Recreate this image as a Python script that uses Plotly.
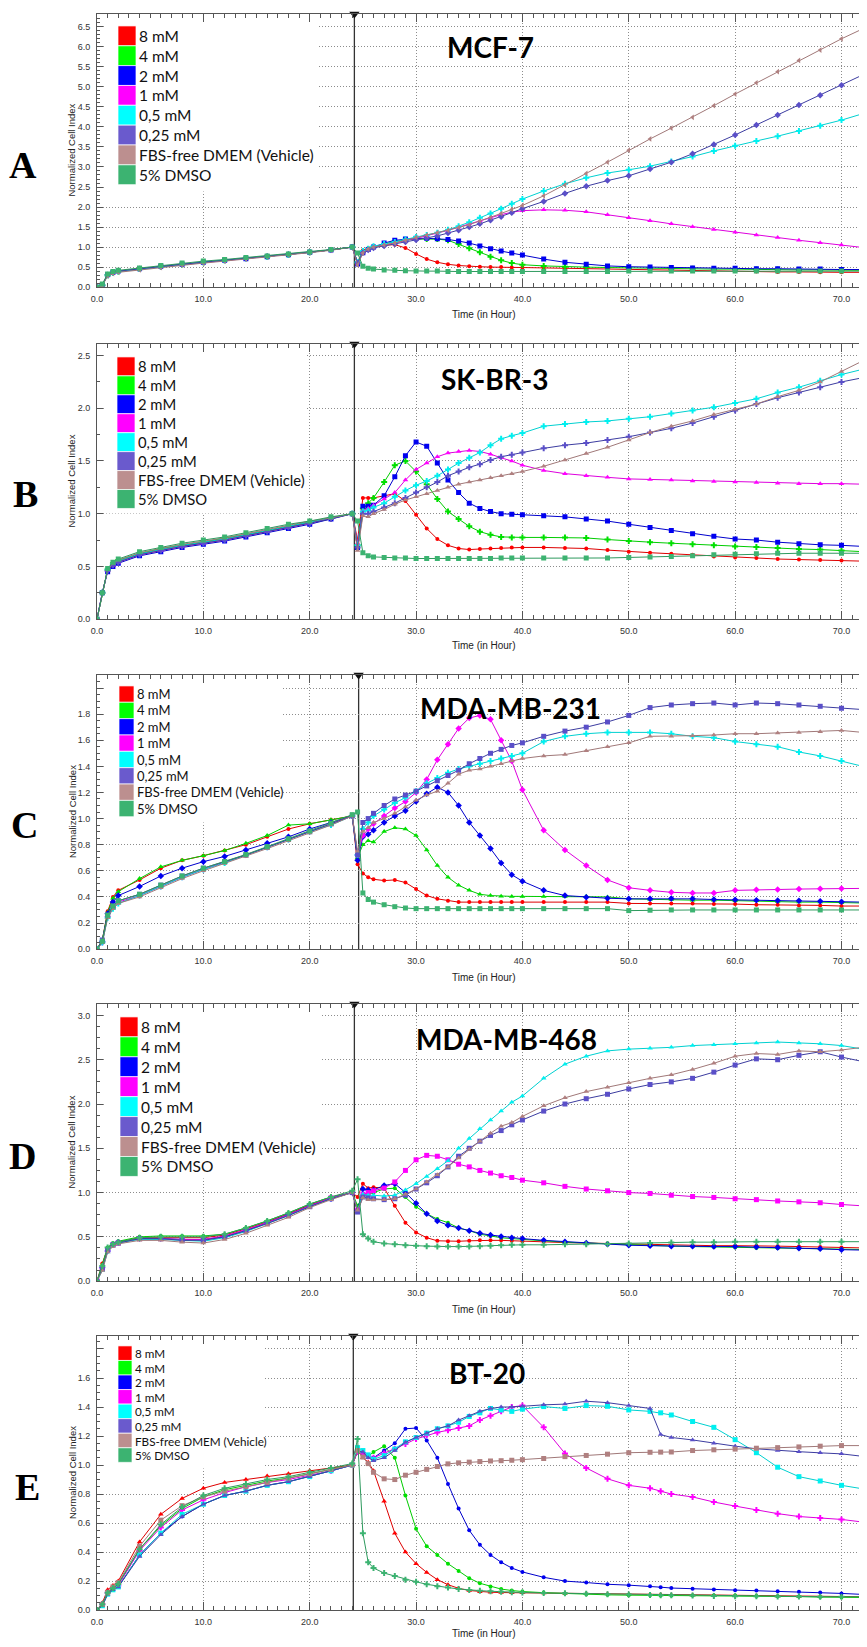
import plotly.graph_objects as go

T = [0, 0.5, 1, 1.5, 2, 4, 6, 8, 10, 12, 14, 16, 18, 20, 22, 24,
     24.5, 25, 25.5, 26, 27, 28, 29, 30, 31, 32, 33, 34, 35, 36, 37, 38, 39, 40,
     42, 44, 46, 48, 50, 52, 54, 56, 58, 60, 62, 64, 66, 68, 70, 72]
T_E = [0, 0.5, 1, 1.5, 2, 4, 6, 8, 10, 12, 14, 16, 18, 20, 22, 24,
       24.5, 25, 25.5, 26, 27, 28, 29, 30, 31, 32, 33, 34, 35, 36, 37, 38, 39, 40,
       42, 44, 46, 48, 50, 52, 53, 54, 56, 58, 60, 62, 64, 66, 68, 70, 72]

LABELS = ["8 mM", "4 mM", "2 mM", "1 mM", "0,5 mM", "0,25 mM",
          "FBS-free DMEM (Vehicle)", "5% DMSO"]
PANEL_LETTERS = ["A", "B", "C", "D", "E"]
CELL_LINES = ["MCF-7", "SK-BR-3", "MDA-MB-231", "MDA-MB-468", "BT-20"]
TREAT = [24.2, 24.2, 24.6, 24.2, 24.1]

# MCF-7
A_8 = [0, 0.06, 0.31, 0.37, 0.4, 0.46, 0.52, 0.57, 0.62, 0.67, 0.72, 0.76, 0.81, 0.87, 0.93, 1.0,
       0.62, 0.92, 0.97, 1.0, 1.05, 1.06, 0.98, 0.83, 0.7, 0.62, 0.57, 0.54, 0.52, 0.51, 0.5, 0.5, 0.49, 0.49,
       0.48, 0.47, 0.47, 0.46, 0.45, 0.44, 0.43, 0.42, 0.41, 0.4, 0.39, 0.38, 0.38, 0.37, 0.37, 0.37]
A_4 = [0, 0.05, 0.3, 0.36, 0.39, 0.45, 0.51, 0.57, 0.62, 0.67, 0.72, 0.76, 0.81, 0.87, 0.93, 1.0,
       0.6, 0.88, 0.95, 1.0, 1.08, 1.14, 1.18, 1.2, 1.2, 1.2, 1.17, 1.08, 0.97, 0.87, 0.76, 0.67, 0.6, 0.56,
       0.53, 0.51, 0.5, 0.49, 0.48, 0.47, 0.46, 0.46, 0.45, 0.45, 0.44, 0.44, 0.43, 0.43, 0.42, 0.42]
A_2 = [0, 0.05, 0.31, 0.37, 0.4, 0.46, 0.52, 0.57, 0.62, 0.67, 0.71, 0.76, 0.81, 0.87, 0.93, 1.0,
       0.58, 0.86, 0.94, 1.0, 1.1, 1.17, 1.2, 1.22, 1.22, 1.21, 1.19, 1.15, 1.1, 1.03, 0.96, 0.9, 0.85, 0.8,
       0.7, 0.62, 0.57, 0.53, 0.51, 0.5, 0.49, 0.48, 0.47, 0.47, 0.46, 0.46, 0.45, 0.45, 0.44, 0.44]
A_1 = [0, 0.05, 0.3, 0.36, 0.39, 0.45, 0.51, 0.56, 0.61, 0.66, 0.71, 0.76, 0.81, 0.87, 0.93, 1.0,
       0.6, 0.88, 0.95, 1.0, 1.05, 1.1, 1.16, 1.22, 1.28, 1.35, 1.42, 1.5, 1.58, 1.66, 1.74, 1.81, 1.87, 1.91,
       1.93, 1.92, 1.88, 1.81, 1.73, 1.66, 1.58, 1.51, 1.44, 1.37, 1.3, 1.24, 1.17, 1.11, 1.05, 0.99]
A_05 = [0, 0.05, 0.3, 0.36, 0.39, 0.45, 0.51, 0.57, 0.62, 0.67, 0.72, 0.76, 0.81, 0.87, 0.93, 1.0,
        0.62, 0.9, 0.96, 1.02, 1.08, 1.13, 1.19, 1.25, 1.3, 1.36, 1.43, 1.52, 1.62, 1.73, 1.84, 1.96, 2.08, 2.2,
        2.4, 2.58, 2.73, 2.85, 2.93, 3.02, 3.14, 3.26, 3.4, 3.53, 3.65, 3.77, 3.9, 4.03, 4.17, 4.33]
A_025 = [0, 0.05, 0.31, 0.37, 0.4, 0.46, 0.52, 0.57, 0.62, 0.67, 0.72, 0.77, 0.82, 0.87, 0.93, 1.0,
         0.6, 0.86, 0.93, 0.98, 1.03, 1.08, 1.13, 1.18, 1.23, 1.28, 1.35, 1.42, 1.5, 1.58, 1.67, 1.76, 1.86, 1.96,
         2.14, 2.34, 2.52, 2.66, 2.78, 2.95, 3.12, 3.33, 3.56, 3.8, 4.05, 4.3, 4.55, 4.79, 5.04, 5.3]
A_veh = [0, 0.03, 0.28, 0.34, 0.37, 0.43, 0.49, 0.55, 0.6, 0.65, 0.7, 0.75, 0.8, 0.86, 0.92, 1.0,
         0.55, 0.85, 0.95, 1.0, 1.05, 1.1, 1.17, 1.24, 1.3, 1.36, 1.42, 1.49, 1.56, 1.65, 1.74, 1.84, 1.94, 2.04,
         2.28, 2.55, 2.84, 3.12, 3.42, 3.7, 3.97, 4.24, 4.53, 4.82, 5.1, 5.38, 5.66, 5.92, 6.2, 6.45]
A_dmso = [0, 0.08, 0.33, 0.39, 0.42, 0.48, 0.54, 0.6, 0.65, 0.69, 0.74, 0.78, 0.83, 0.88, 0.94, 1.0,
          0.85, 0.52, 0.47, 0.45, 0.43, 0.42, 0.41, 0.4, 0.4, 0.4, 0.39, 0.39, 0.39, 0.39, 0.39, 0.39, 0.39, 0.39,
          0.39, 0.39, 0.39, 0.39, 0.4, 0.4, 0.4, 0.4, 0.4, 0.4, 0.4, 0.4, 0.4, 0.4, 0.4, 0.4]

# SK-BR-3
B_8 = [0, 0.25, 0.47, 0.52, 0.55, 0.62, 0.66, 0.7, 0.73, 0.76, 0.8, 0.84, 0.88, 0.92, 0.96, 1.0,
       0.75, 1.15, 1.15, 1.15, 1.17, 1.19, 1.12, 0.99, 0.86, 0.76, 0.7, 0.67, 0.66, 0.665, 0.67, 0.675, 0.68, 0.68,
       0.68, 0.675, 0.67, 0.655, 0.64, 0.63, 0.62, 0.61, 0.595, 0.585, 0.58, 0.57, 0.565, 0.56, 0.555, 0.55]
B_4 = [0, 0.25, 0.47, 0.53, 0.56, 0.62, 0.67, 0.7, 0.73, 0.77, 0.8, 0.84, 0.88, 0.92, 0.96, 1.0,
       0.7, 1.05, 1.1, 1.15, 1.3, 1.46, 1.5, 1.4, 1.28, 1.14, 1.02, 0.95, 0.88, 0.83, 0.8, 0.78, 0.775, 0.775,
       0.775, 0.775, 0.77, 0.755, 0.74, 0.73, 0.72, 0.71, 0.7, 0.69, 0.685, 0.675, 0.665, 0.66, 0.65, 0.64]
B_2 = [0, 0.25, 0.45, 0.5, 0.53, 0.6, 0.64, 0.68, 0.71, 0.74, 0.78, 0.82, 0.86, 0.9, 0.95, 1.0,
       0.68, 1.07, 1.07, 1.08, 1.17, 1.35, 1.55, 1.68, 1.64, 1.48, 1.32, 1.2, 1.1, 1.05, 1.02, 1.0, 0.995, 0.99,
       0.98, 0.97, 0.95, 0.93, 0.9, 0.87, 0.84, 0.81, 0.785, 0.76, 0.75, 0.73, 0.715, 0.705, 0.7, 0.69]
B_1 = [0, 0.25, 0.46, 0.51, 0.54, 0.61, 0.65, 0.69, 0.72, 0.75, 0.79, 0.83, 0.87, 0.91, 0.96, 1.0,
       0.72, 1.03, 1.05, 1.08, 1.14, 1.2, 1.32, 1.42, 1.48, 1.54, 1.575, 1.59, 1.6, 1.59, 1.565, 1.53, 1.5, 1.46,
       1.41, 1.38, 1.36, 1.345, 1.33, 1.325, 1.32, 1.31, 1.305, 1.3, 1.295, 1.29, 1.285, 1.285, 1.285, 1.28]
B_05 = [0, 0.25, 0.47, 0.52, 0.55, 0.62, 0.66, 0.7, 0.73, 0.76, 0.8, 0.84, 0.88, 0.92, 0.96, 1.0,
        0.7, 1.02, 1.03, 1.06, 1.1, 1.16, 1.22, 1.27, 1.31, 1.36, 1.42, 1.48, 1.53, 1.58, 1.65, 1.71, 1.74, 1.765,
        1.83, 1.85, 1.87, 1.88, 1.9, 1.92, 1.95, 1.98, 2.01, 2.05, 2.09, 2.15, 2.2, 2.26, 2.32, 2.37]
B_025 = [0, 0.25, 0.46, 0.51, 0.54, 0.61, 0.65, 0.69, 0.72, 0.75, 0.79, 0.83, 0.87, 0.91, 0.95, 1.0,
         0.68, 1.0, 1.0, 1.02, 1.06, 1.1, 1.15, 1.2, 1.25, 1.3, 1.36, 1.4, 1.44, 1.47, 1.51, 1.54, 1.56, 1.58,
         1.62, 1.65, 1.67, 1.7, 1.73, 1.77, 1.81, 1.86, 1.92, 1.98, 2.04, 2.1, 2.15, 2.2, 2.25, 2.29]
B_veh = [0, 0.25, 0.47, 0.53, 0.56, 0.63, 0.67, 0.71, 0.74, 0.77, 0.81, 0.85, 0.89, 0.93, 0.96, 1.0,
         0.65, 0.98, 0.97, 1.0, 1.04, 1.09, 1.13, 1.16, 1.19, 1.22, 1.25, 1.28, 1.3, 1.32, 1.34, 1.36, 1.38, 1.4,
         1.45, 1.51, 1.57, 1.63, 1.7, 1.77, 1.83, 1.88, 1.94, 1.99, 2.04, 2.11, 2.17, 2.25, 2.35, 2.45]
B_dmso = [0, 0.25, 0.48, 0.54, 0.57, 0.64, 0.68, 0.72, 0.75, 0.78, 0.82, 0.86, 0.9, 0.93, 0.97, 1.0,
          0.93, 0.63, 0.6, 0.59, 0.585, 0.58, 0.58, 0.575, 0.575, 0.575, 0.575, 0.575, 0.575, 0.575, 0.575, 0.58, 0.58, 0.58,
          0.58, 0.58, 0.58, 0.58, 0.585, 0.59, 0.595, 0.6, 0.61, 0.615, 0.62, 0.625, 0.625, 0.625, 0.625, 0.625]

# MDA-MB-231
C_8 = [0, 0.07, 0.29, 0.4, 0.45, 0.53, 0.62, 0.68, 0.715, 0.755, 0.8, 0.86, 0.92, 0.96, 0.99, 1.02,
       0.65, 0.58, 0.55, 0.535, 0.525, 0.53, 0.51, 0.46, 0.41, 0.385, 0.37, 0.36, 0.36, 0.36, 0.36, 0.36, 0.36, 0.36,
       0.36, 0.36, 0.36, 0.36, 0.35, 0.35, 0.35, 0.35, 0.345, 0.345, 0.34, 0.34, 0.335, 0.335, 0.33, 0.33]
C_4 = [0, 0.07, 0.28, 0.39, 0.44, 0.54, 0.63, 0.68, 0.716, 0.755, 0.81, 0.87, 0.95, 0.96, 0.99, 1.02,
       0.7, 0.8, 0.83, 0.82, 0.9, 0.93, 0.92, 0.87, 0.76, 0.64, 0.55, 0.49, 0.45, 0.42, 0.41, 0.405, 0.404, 0.404,
       0.404, 0.404, 0.405, 0.4, 0.385, 0.38, 0.38, 0.375, 0.375, 0.37, 0.37, 0.365, 0.36, 0.36, 0.355, 0.353]
C_2 = [0, 0.06, 0.27, 0.36, 0.41, 0.48, 0.56, 0.62, 0.67, 0.71, 0.76, 0.81, 0.86, 0.92, 0.97, 1.02,
       0.68, 0.86, 0.88, 0.91, 0.97, 1.02, 1.06, 1.13, 1.19, 1.24, 1.2, 1.1, 0.97, 0.87, 0.77, 0.66, 0.57, 0.52,
       0.45, 0.41, 0.398, 0.39, 0.385, 0.385, 0.388, 0.385, 0.38, 0.378, 0.375, 0.372, 0.37, 0.366, 0.363, 0.36]
C_1 = [0, 0.05, 0.25, 0.32, 0.36, 0.41, 0.48, 0.55, 0.61, 0.665, 0.72, 0.78, 0.84, 0.9, 0.96, 1.02,
       0.72, 0.87, 0.92, 0.96, 1.02, 1.08, 1.13, 1.2, 1.3, 1.45, 1.57, 1.69, 1.77, 1.79, 1.76, 1.6, 1.44, 1.22,
       0.91, 0.76, 0.64, 0.53, 0.47, 0.45, 0.435, 0.43, 0.43, 0.45, 0.455, 0.457, 0.46, 0.462, 0.464, 0.465]
C_05 = [0, 0.05, 0.24, 0.31, 0.35, 0.41, 0.48, 0.55, 0.61, 0.66, 0.72, 0.78, 0.84, 0.9, 0.95, 1.02,
        0.72, 0.92, 0.97, 1.02, 1.07, 1.12, 1.16, 1.21, 1.27, 1.31, 1.35, 1.38, 1.4, 1.42, 1.44, 1.46, 1.48, 1.5,
        1.59, 1.63, 1.65, 1.66, 1.66, 1.66, 1.65, 1.63, 1.62, 1.59, 1.57, 1.55, 1.51, 1.48, 1.44, 1.4]
C_025 = [0, 0.07, 0.26, 0.33, 0.37, 0.42, 0.49, 0.56, 0.62, 0.67, 0.72, 0.78, 0.84, 0.9, 0.96, 1.02,
         0.72, 0.97, 1.0, 1.04, 1.1, 1.15, 1.18, 1.21, 1.25, 1.29, 1.33, 1.37, 1.42, 1.46, 1.5, 1.53, 1.56, 1.58,
         1.63, 1.67, 1.7, 1.74, 1.79, 1.85, 1.87, 1.88, 1.885, 1.87, 1.885, 1.88, 1.87, 1.86, 1.845, 1.835]
C_veh = [0, 0.05, 0.24, 0.31, 0.35, 0.4, 0.47, 0.54, 0.6, 0.655, 0.71, 0.77, 0.83, 0.89, 0.95, 1.02,
         0.75, 0.9, 0.93, 0.97, 1.0, 1.04, 1.09, 1.14, 1.18, 1.21, 1.27, 1.34, 1.37, 1.38, 1.4, 1.42, 1.44, 1.46,
         1.48, 1.49, 1.52, 1.55, 1.58, 1.63, 1.63, 1.635, 1.64, 1.65, 1.65, 1.655, 1.66, 1.665, 1.675, 1.66]
C_dmso = [0, 0.06, 0.26, 0.33, 0.37, 0.42, 0.49, 0.56, 0.62, 0.67, 0.725, 0.785, 0.845, 0.905, 0.965, 1.03,
          1.05, 0.43, 0.38, 0.36, 0.34, 0.325, 0.315, 0.31, 0.31, 0.31, 0.31, 0.31, 0.31, 0.31, 0.31, 0.31, 0.31, 0.31,
          0.31, 0.31, 0.31, 0.31, 0.295, 0.298, 0.3, 0.3, 0.3, 0.3, 0.3, 0.3, 0.3, 0.3, 0.3, 0.3]

# MDA-MB-468
D_8 = [0, 0.2, 0.37, 0.42, 0.44, 0.49, 0.49, 0.49, 0.49, 0.52, 0.59, 0.67, 0.76, 0.86, 0.94, 1.0,
       0.95, 1.1, 1.05, 1.06, 1.05, 0.85, 0.66, 0.55, 0.49, 0.455, 0.45, 0.45, 0.455, 0.46, 0.46, 0.46, 0.455, 0.45,
       0.445, 0.435, 0.43, 0.425, 0.415, 0.41, 0.405, 0.4, 0.4, 0.4, 0.4, 0.395, 0.39, 0.385, 0.38, 0.375]
D_4 = [0, 0.18, 0.38, 0.43, 0.45, 0.5, 0.51, 0.51, 0.51, 0.53, 0.6, 0.68, 0.77, 0.87, 0.95, 1.0,
       0.85, 0.96, 0.98, 1.0, 1.04, 1.05, 0.95, 0.84, 0.76, 0.7, 0.66, 0.6, 0.57, 0.53, 0.51, 0.49, 0.48, 0.47,
       0.455, 0.44, 0.43, 0.42, 0.41, 0.4, 0.395, 0.39, 0.385, 0.38, 0.375, 0.37, 0.368, 0.365, 0.36, 0.357]
D_2 = [0, 0.15, 0.34, 0.41, 0.44, 0.48, 0.48, 0.47, 0.47, 0.5, 0.57, 0.66, 0.75, 0.85, 0.93, 1.0,
       0.8, 1.04, 1.03, 1.03, 1.08, 1.1, 1.0, 0.88, 0.76, 0.68, 0.63, 0.6, 0.57, 0.54, 0.52, 0.505, 0.49, 0.48,
       0.46, 0.445, 0.43, 0.415, 0.405, 0.4, 0.395, 0.395, 0.39, 0.39, 0.385, 0.38, 0.37, 0.365, 0.355, 0.35]
D_1 = [0, 0.15, 0.35, 0.41, 0.43, 0.48, 0.48, 0.47, 0.47, 0.51, 0.58, 0.66, 0.75, 0.85, 0.94, 1.0,
       0.8, 0.98, 1.0, 1.02, 1.05, 1.12, 1.25, 1.37, 1.42, 1.41, 1.37, 1.32, 1.29, 1.25, 1.22, 1.19, 1.17, 1.14,
       1.11, 1.07, 1.04, 1.02, 1.0, 0.99, 0.97, 0.955, 0.945, 0.93, 0.92, 0.905, 0.895, 0.885, 0.865, 0.85]
D_05 = [0, 0.12, 0.33, 0.4, 0.43, 0.47, 0.47, 0.46, 0.45, 0.49, 0.56, 0.65, 0.74, 0.84, 0.93, 1.0,
        0.8, 0.98, 0.97, 0.97, 0.96, 0.97, 1.03, 1.1, 1.18, 1.27, 1.36, 1.5, 1.61, 1.72, 1.82, 1.92, 2.02, 2.09,
        2.29, 2.45, 2.54, 2.6, 2.62, 2.63, 2.64, 2.66, 2.67, 2.68, 2.69, 2.7, 2.69, 2.68, 2.66, 2.62]
D_025 = [0, 0.14, 0.35, 0.41, 0.43, 0.48, 0.48, 0.46, 0.46, 0.5, 0.57, 0.65, 0.74, 0.84, 0.93, 1.0,
         0.78, 0.95, 0.94, 0.93, 0.92, 0.93, 0.97, 1.04, 1.11, 1.19, 1.29, 1.41, 1.5, 1.58, 1.645, 1.7, 1.765, 1.82,
         1.92, 2.0, 2.06, 2.11, 2.17, 2.22, 2.25, 2.29, 2.36, 2.44, 2.51, 2.5, 2.55, 2.59, 2.53, 2.48]
D_veh = [0, 0.12, 0.33, 0.39, 0.42, 0.46, 0.46, 0.44, 0.43, 0.47, 0.54, 0.63, 0.72, 0.83, 0.92, 1.0,
         0.8, 0.94, 0.92, 0.92, 0.92, 0.93, 0.98, 1.04, 1.12, 1.2, 1.29, 1.39, 1.49, 1.58, 1.67, 1.75, 1.79, 1.86,
         1.98, 2.07, 2.14, 2.19, 2.24, 2.29, 2.33, 2.39, 2.46, 2.54, 2.57, 2.56, 2.6, 2.59, 2.61, 2.64]
D_dmso = [0, 0.17, 0.38, 0.42, 0.44, 0.49, 0.5, 0.5, 0.5, 0.53, 0.6, 0.68, 0.77, 0.87, 0.95, 1.02,
          1.15, 0.53, 0.48, 0.445, 0.425, 0.415, 0.405, 0.4, 0.395, 0.39, 0.39, 0.39, 0.39, 0.395, 0.4, 0.405, 0.41, 0.41,
          0.41, 0.415, 0.415, 0.42, 0.425, 0.43, 0.435, 0.44, 0.44, 0.445, 0.445, 0.445, 0.445, 0.445, 0.445, 0.445]

# BT-20 (time grid T_E)
E_8 = [0, 0.05, 0.14, 0.17, 0.2, 0.47, 0.66, 0.77, 0.84, 0.88, 0.9, 0.925, 0.94, 0.96, 0.98, 1.0,
       1.1, 1.05, 1.02, 0.96, 0.75, 0.53, 0.4, 0.32, 0.26, 0.21, 0.175, 0.15, 0.135, 0.127, 0.123, 0.121, 0.12, 0.12,
       0.118, 0.116, 0.114, 0.112, 0.11, 0.108, 0.107, 0.106, 0.104, 0.102, 0.1, 0.099, 0.097, 0.096, 0.095, 0.093, 0.092]
E_4 = [0, 0.04, 0.12, 0.15, 0.18, 0.42, 0.58, 0.7, 0.78, 0.83, 0.86, 0.89, 0.91, 0.94, 0.97, 1.0,
       1.1, 1.065, 1.06, 1.09, 1.13, 1.05, 0.79, 0.56, 0.44, 0.38, 0.32, 0.27, 0.22, 0.185, 0.163, 0.145, 0.135, 0.128,
       0.12, 0.114, 0.11, 0.105, 0.103, 0.102, 0.1015, 0.101, 0.1, 0.1, 0.1, 0.097, 0.095, 0.093, 0.09, 0.088, 0.087]
E_2 = [0, 0.03, 0.11, 0.14, 0.16, 0.38, 0.53, 0.645, 0.73, 0.79, 0.82, 0.86, 0.885, 0.92, 0.96, 1.0,
       1.1, 1.08, 1.06, 1.05, 1.1, 1.15, 1.25, 1.255, 1.17, 1.05, 0.87, 0.7, 0.55, 0.45, 0.38, 0.33, 0.29, 0.263,
       0.226, 0.2, 0.19, 0.178, 0.172, 0.165, 0.158, 0.152, 0.148, 0.142, 0.137, 0.135, 0.13, 0.126, 0.122, 0.115, 0.108]
E_1 = [0, 0.04, 0.12, 0.15, 0.17, 0.41, 0.57, 0.69, 0.76, 0.81, 0.85, 0.88, 0.9, 0.93, 0.96, 1.0,
       1.09, 1.08, 1.06, 1.05, 1.08, 1.11, 1.145, 1.18, 1.205, 1.225, 1.24, 1.255, 1.27, 1.31, 1.34, 1.37, 1.4, 1.41,
       1.26, 1.08, 0.98, 0.905, 0.86, 0.84, 0.82, 0.8, 0.78, 0.745, 0.717, 0.69, 0.665, 0.645, 0.635, 0.625, 0.607]
E_05 = [0, 0.03, 0.11, 0.14, 0.16, 0.38, 0.53, 0.66, 0.73, 0.79, 0.82, 0.86, 0.885, 0.92, 0.96, 1.0,
        1.12, 1.1, 1.07, 1.04, 1.065, 1.11, 1.16, 1.19, 1.22, 1.25, 1.27, 1.295, 1.335, 1.36, 1.39, 1.38, 1.37, 1.385,
        1.403, 1.39, 1.41, 1.405, 1.38, 1.37, 1.36, 1.345, 1.3, 1.26, 1.175, 1.085, 0.985, 0.92, 0.89, 0.86, 0.836]
E_025 = [0, 0.03, 0.11, 0.14, 0.16, 0.37, 0.52, 0.645, 0.73, 0.79, 0.82, 0.86, 0.885, 0.92, 0.96, 1.0,
         1.1, 1.09, 1.05, 1.03, 1.05, 1.1, 1.157, 1.19, 1.22, 1.25, 1.27, 1.31, 1.34, 1.37, 1.39, 1.4, 1.4, 1.405,
         1.415, 1.42, 1.44, 1.43, 1.41, 1.39, 1.21, 1.19, 1.173, 1.15, 1.13, 1.112, 1.1, 1.092, 1.084, 1.077, 1.06]
E_veh = [0, 0.04, 0.12, 0.16, 0.19, 0.44, 0.62, 0.72, 0.78, 0.82, 0.85, 0.88, 0.91, 0.94, 0.97, 1.0,
         1.1, 1.055, 1.01, 0.95, 0.905, 0.9, 0.93, 0.95, 0.97, 0.99, 1.008, 1.015, 1.02, 1.024, 1.028, 1.03, 1.033, 1.037,
         1.045, 1.058, 1.066, 1.075, 1.085, 1.088, 1.089, 1.09, 1.1, 1.105, 1.11, 1.116, 1.12, 1.125, 1.13, 1.134, 1.134]
E_dmso = [0, 0.04, 0.12, 0.15, 0.18, 0.42, 0.59, 0.71, 0.79, 0.84, 0.87, 0.9, 0.92, 0.95, 0.98, 1.01,
          1.18, 0.53, 0.33, 0.29, 0.255, 0.235, 0.21, 0.195, 0.178, 0.165, 0.155, 0.146, 0.138, 0.134, 0.13, 0.126, 0.123, 0.121,
          0.118, 0.116, 0.113, 0.11, 0.107, 0.104, 0.103, 0.102, 0.1, 0.098, 0.096, 0.095, 0.094, 0.093, 0.092, 0.092, 0.092]

SERIES = [
    (T, [A_8, A_4, A_2, A_1, A_05, A_025, A_veh, A_dmso]),
    (T, [B_8, B_4, B_2, B_1, B_05, B_025, B_veh, B_dmso]),
    (T, [C_8, C_4, C_2, C_1, C_05, C_025, C_veh, C_dmso]),
    (T, [D_8, D_4, D_2, D_1, D_05, D_025, D_veh, D_dmso]),
    (T_E, [E_8, E_4, E_2, E_1, E_05, E_025, E_veh, E_dmso]),
]
for tt, group in SERIES:
    for s in group:
        assert len(s) == len(tt), (len(s), len(tt))

# ---- styling ----
# the page body keeps its default 8px margin, so the figure is sized to fill the rest
PAGE_W, PAGE_H, BODY = 867, 1647, 8
W, H = PAGE_W - BODY, PAGE_H - BODY
PLOT_L = 97                      # screen x of the plot's left edge
ML = PLOT_L - BODY
SWATCH = ["#FF0000", "#00FF00", "#0000FF", "#FF00FF", "#00FFFF", "#6A5ACD", "#BC8F8F", "#3CB371"]
MARKER_COLORS = ["#FF0000", "#00E000", "#0000F0", "#FF00FF", "#00F0F0", "#5A4FC8", "#B08080", "#3CB371"]
LINE_COLORS = ["#DD0000", "#00CC00", "#0000CC", "#DD00DD", "#00D0D0", "#3C3CA0", "#A07878", "#2E9A5E"]
SYMBOLS = [
    ["circle", "cross", "square", "triangle-up", "cross", "diamond", "triangle-left", "square"],
    ["circle", "cross", "square", "triangle-up", "cross", "cross", "triangle-up", "square"],
    ["circle", "triangle-up", "diamond", "diamond", "cross", "square", "triangle-up", "square"],
    ["circle", "circle", "diamond", "square", "triangle-up", "square", "triangle-up", "cross"],
    ["triangle-up", "circle", "circle", "cross", "square", "triangle-up", "square", "cross"],
]
SYM_SIZE = {"circle": 4, "cross": 5, "square": 5, "triangle-up": 5, "triangle-left": 5, "diamond": 5}

# panel geometry in screen pixels
P_TOP = [14, 345, 677, 1007, 1340]
P_BOT = [288, 621, 952, 1285, 1615]
YMAX = [6.82, 2.61, 2.1, 3.13, 1.89]
YSTEP = [0.5, 0.5, 0.2, 0.5, 0.2]
YTOP_TICK = [6.5, 2.5, 2.0, 3.0, 1.8]
YLABEL_MAX = [6.5, 2.5, 1.8, 3.0, 1.6]
YMINOR = [0.1, 0.25, 0.05, 0.125, 0.05]
XTITLE_Y = [315, 647, 980, 1313, 1638]
TITLE_POS = [(491, 47), (495, 380), (510, 710), (506, 1042), (487, 1377)]
LETTER_POS = [(23, 165), (25, 495), (24, 828), (22, 1160), (27, 1492)]
LEG = [
    dict(x0=118, x1=136, top=26, row=19.9, fs=15.5, box=(318, 192)),
    dict(x0=117, x1=135, top=358, row=19.0, fs=14.8, box=(307, 515)),
    dict(x0=119, x1=134, top=688, row=16.4, fs=13.0, box=(283, 825)),
    dict(x0=120, x1=138, top=1020, row=20.0, fs=15.5, box=(320, 1182)),
    dict(x0=118, x1=132, top=1350, row=14.6, fs=11.7, box=(265, 1473)),
]


def px_x(px):
    return (px - PLOT_L) / (PAGE_W - PLOT_L)


def px_y(py):
    return 1 - (py - BODY) / H


tickfont = dict(family="Liberation Sans", size=9, color="#333")
titlefont = dict(family="Liberation Sans", size=9.5, color="#222")
GRID = dict(showgrid=True, gridcolor="#8c8c8c", griddash="1px,2px", gridwidth=1)

fig = go.Figure()
shapes = []
annotations = []
layout = {}

for p in range(5):
    sfx = "" if p == 0 else str(p + 1)
    xa, ya = "x" + sfx, "y" + sfx
    tt, group = SERIES[p]
    for k, ys in enumerate(group):
        sym = SYMBOLS[p][k]
        fig.add_trace(go.Scatter(
            x=tt, y=ys, xaxis=xa, yaxis=ya, mode="lines+markers", name=LABELS[k],
            line=dict(color=LINE_COLORS[k], width=1),
            marker=dict(symbol=sym, size=SYM_SIZE[sym], color=MARKER_COLORS[k], line=dict(width=0)),
            showlegend=False))
    # treatment marker on the top frame
    fig.add_trace(go.Scatter(
        x=[TREAT[p]], y=[YMAX[p]], xaxis=xa, yaxis=ya, mode="markers",
        marker=dict(symbol="triangle-down", size=9, color="#111"),
        cliponaxis=False, showlegend=False, hoverinfo="skip"))

    n = int(round(YTOP_TICK[p] / YSTEP[p]))
    yvals = [round(i * YSTEP[p], 3) for i in range(n + 1)]
    ytext = [f"{v:.1f}" if v <= YLABEL_MAX[p] + 1e-9 else "" for v in yvals]

    layout["xaxis" + sfx] = dict(
        domain=[0, 1], anchor=ya, range=[0, 72.4], tickmode="linear", tick0=0, dtick=10,
        tickformat=".1f", ticks="inside", ticklen=8, tickcolor="#555", showline=True,
        linecolor="#555", linewidth=1, mirror="ticks", zeroline=False, tickfont=tickfont,
        ticklabelstandoff=3,
        minor=dict(ticks="inside", ticklen=4, dtick=1, tick0=0, tickcolor="#555", showgrid=False),
        **GRID)
    layout["yaxis" + sfx] = dict(
        domain=[px_y(P_BOT[p]), px_y(P_TOP[p])], anchor=xa, range=[0, YMAX[p]],
        tickmode="array", tickvals=yvals, ticktext=ytext, ticks="inside", ticklen=6,
        tickcolor="#555", showline=True, linecolor="#555", linewidth=1, zeroline=False,
        tickfont=tickfont, ticklabelstandoff=4,
        minor=dict(ticks="inside", ticklen=3, dtick=YMINOR[p], tick0=0, tickcolor="#555", showgrid=False),
        **GRID)

    # axis titles
    annotations.append(dict(xref="paper", yref="paper", x=px_x(484), y=px_y(XTITLE_Y[p]),
                            text="Time (in Hour)", showarrow=False, xanchor="center", yanchor="middle",
                            font=dict(family="Liberation Sans", size=10, color="#222")))
    annotations.append(dict(xref="paper", yref="paper", x=px_x(72),
                            y=px_y((P_TOP[p] + P_BOT[p]) / 2), text="Normalized Cell Index",
                            textangle=-90, showarrow=False, xanchor="center", yanchor="middle",
                            font=titlefont))

    # treatment time line
    shapes.append(dict(type="line", xref=xa, yref=ya + " domain", x0=TREAT[p], x1=TREAT[p],
                       y0=0, y1=1, line=dict(color="#333", width=1.3), layer="below"))

    # legend block: white backing that hides the grid, then swatches and labels
    lg = LEG[p]
    shapes.append(dict(type="rect", xref="paper", yref="paper",
                       x0=px_x(PLOT_L + 7), x1=px_x(lg["box"][0]),
                       y0=px_y(lg["box"][1]), y1=px_y(P_TOP[p] + 9),
                       fillcolor="white", line=dict(width=0), layer="above"))
    for k, lab in enumerate(LABELS):
        y0 = lg["top"] + k * lg["row"]
        shapes.append(dict(type="rect", xref="paper", yref="paper",
                           x0=px_x(lg["x0"]), x1=px_x(lg["x1"]),
                           y0=px_y(y0 + lg["row"]), y1=px_y(y0),
                           fillcolor=SWATCH[k], line=dict(color="rgba(255,255,255,0.7)", width=1),
                           layer="above"))
        annotations.append(dict(xref="paper", yref="paper", x=px_x(lg["x1"] + 2),
                                y=px_y(y0 + lg["row"] / 2), text=lab, showarrow=False,
                                xanchor="left", yanchor="middle", borderpad=0,
                                font=dict(family="Lato", size=lg["fs"], color="#111")))

    # cell line title and panel letter
    annotations.append(dict(xref="paper", yref="paper", x=px_x(TITLE_POS[p][0]),
                            y=px_y(TITLE_POS[p][1]), text="<b>" + CELL_LINES[p] + "</b>",
                            showarrow=False, xanchor="center", yanchor="middle",
                            font=dict(family="Lato", size=28, color="#000")))
    annotations.append(dict(xref="paper", yref="paper", x=px_x(LETTER_POS[p][0]),
                            y=px_y(LETTER_POS[p][1]), text="<b>" + PANEL_LETTERS[p] + "</b>",
                            showarrow=False, xanchor="center", yanchor="middle",
                            font=dict(family="Liberation Serif", size=38, color="#000")))

fig.update_layout(
    width=W, height=H, margin=dict(l=ML, r=0, t=0, b=0),
    paper_bgcolor="white", plot_bgcolor="white", showlegend=False,
    shapes=shapes, annotations=annotations, **layout)

fig.write_html("out.html")
